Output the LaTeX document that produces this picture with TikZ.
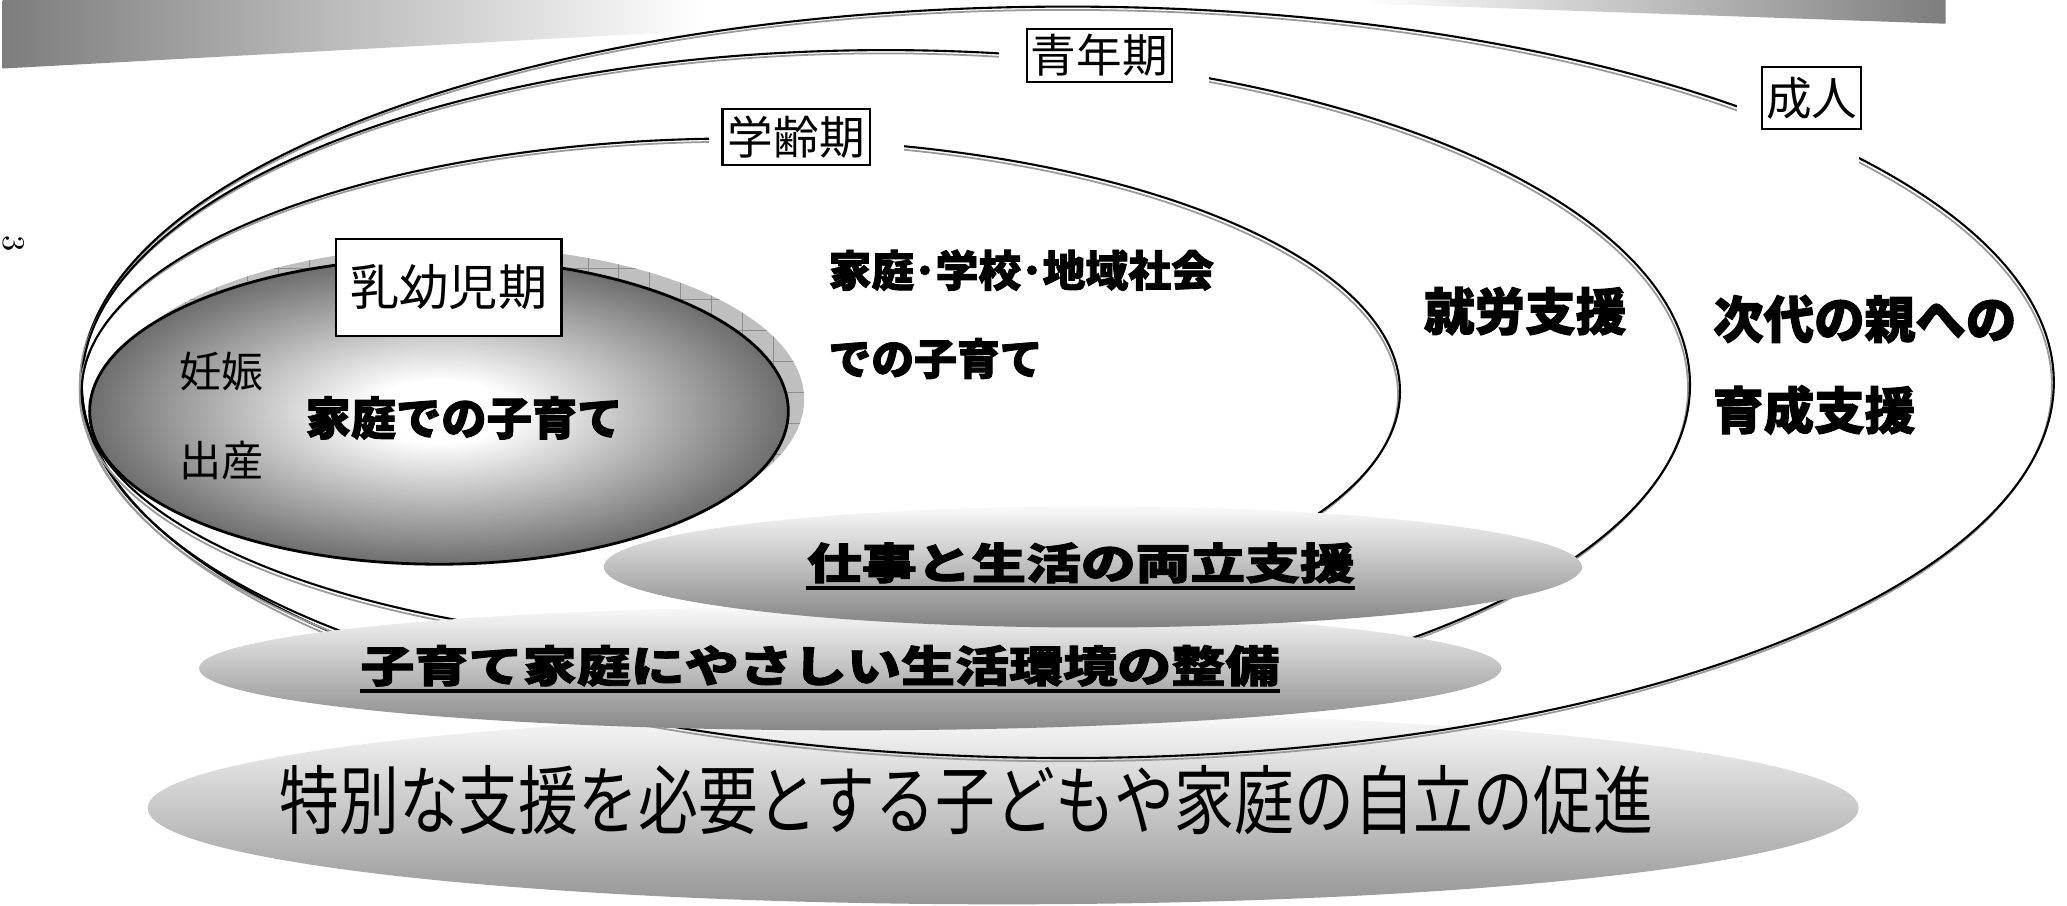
\documentclass[tikz,border=0pt]{standalone}
\usepackage{fontspec}
\usepackage{graphicx}
\newfontfamily\jp{Noto Sans CJK JP}[BoldFeatures={FakeBold=2}]
\definecolor{bgray}{RGB}{125,125,125}
\definecolor{dgray}{RGB}{110,110,110}
\definecolor{eonegray}{RGB}{130,130,130}
\definecolor{etwogray}{RGB}{135,135,135}
\definecolor{ethreegray}{RGB}{150,150,150}
\definecolor{etop}{RGB}{250,250,250}
\pgfdeclarehorizontalshading{banner}{100bp}{color(0bp)=(bgray); color(25bp)=(bgray); color(43bp)=(white); color(60bp)=(white); color(75bp)=(bgray); color(100bp)=(bgray)}
\pgfdeclareradialshading{infant}{\pgfpoint{0bp}{0bp}}{color(0bp)=(white); color(5bp)=(white); color(25bp)=(dgray); color(50bp)=(dgray)}
\tikzset{
  ring/.style={draw=black, line width=0.6pt},
  ringshadow/.style={draw=black!40, line width=0.5pt},
  gridline/.style={draw=black!45, line width=0.25pt},
  lbl/.style={draw=black, fill=white, line width=0.6pt, inner sep=0pt, font=\jp\fontsize{13pt}{13pt}\selectfont},
  thin/.style={inner sep=0pt, font=\jp\fontsize{#1}{#1}\selectfont},
  pop/.style={inner sep=0pt, font=\jp\bfseries\fontsize{#1}{#1}\selectfont},
  uline/.style={draw=black, line width=1.1pt}
}
\begin{document}
\begin{tikzpicture}[x=0.0132cm, y=-0.0132cm]
\useasboundingbox (0,0) rectangle (1568,687);
% header banner
\shade[shading=banner] (2,0) -- (1476,0) -- (1476,18) -- (960,0) -- (2,52) -- cycle;
% bottom wide ellipse
\shade[top color=etop, bottom color=ethreegray] (761,613) ellipse [x radius=649, y radius=73];
% life stage rings
\draw[ringshadow] (808.5,292.5) ellipse [x radius=748, y radius=285];
\draw[ring] (810,290) ellipse [x radius=748, y radius=285];
\draw[ringshadow] (670.5,294.5) ellipse [x radius=610, y radius=254];
\draw[ring] (672,292) ellipse [x radius=610, y radius=254];
\draw[ringshadow] (560.5,299.5) ellipse [x radius=500, y radius=192];
\draw[ring] (562,297) ellipse [x radius=500, y radius=192];
% gaps for labels
\fill[white] (538,92) rectangle (686,121);
\fill[white] (758,28) rectangle (917,66);
\fill[white] (1318,58) rectangle (1410,125);
\node[lbl, minimum width=42pt, minimum height=15.8pt] (gakurei) at (604,104) {学齢期};
\node[lbl, minimum width=41.3pt, minimum height=15pt] (seinen) at (834,42) {青年期};
\node[lbl, minimum width=28.2pt, minimum height=17.7pt] (seijin) at (1374.5,74.5) {成人};
% infant ellipse shadow
\begin{scope}
\clip (345,303) ellipse [x radius=265, y radius=116];
\fill[black!25] (60,180) rectangle (620,430);
\foreach \gx in {70,93.5,...,620} \draw[gridline] (\gx,180) -- (\gx,430);
\foreach \gy in {180,203.5,...,430} \draw[gridline] (60,\gy) -- (620,\gy);
\end{scope}
\shadedraw[shading=infant, line width=0.8pt] (333,312) ellipse [x radius=265, y radius=116];
\node[lbl, minimum width=64.2pt, minimum height=27.8pt, font=\jp\fontsize{14pt}{14pt}\selectfont] (nyuyoji) at (340.5,218) {乳幼児期};
% support ellipses
\shade[top color=etop, bottom color=etwogray] (645,507) ellipse [x radius=494, y radius=47];
\shade[top color=etop, bottom color=eonegray] (829,430) ellipse [x radius=371, y radius=46];
% texts
\node[thin=12pt] (ninshin) at (168,282) {妊娠};
\node[thin=12pt] (shussan) at (168,349) {出産};
\node[pop=12.9pt] (katei) at (352,317) {家庭での子育て};
\node[pop=12.2pt, anchor=west] (gakko1) at (628,205) {家庭･学校･地域社会};
\node[pop=12.2pt, anchor=west] (gakko2) at (628,272) {での子育て};
\node[pop=14.4pt] (shuro) at (1157,236) {就労支援};
\node[pop=14.4pt, anchor=west] (jidai1) at (1299,242) {次代の親への};
\node[pop=14.4pt, anchor=west] (jidai2) at (1299,311) {育成支援};
\node[pop=15.6pt] (ryoritsu) at (820,427) {\scalebox{1}[0.78]{仕事と生活の両立支援}};
\node[pop=15.4pt] (kankyo) at (622,505) {\scalebox{1}[0.8]{子育て家庭にやさしい生活環境の整備}};
\draw[uline] ([yshift=-2.5pt]ryoritsu.base west) -- ([yshift=-2.5pt]ryoritsu.base east);
\draw[uline] ([yshift=-2.5pt]kankyo.base west) -- ([yshift=-2.5pt]kankyo.base east);
\node[thin=21.4pt] (tokubetsu) at (733,607) {\scalebox{0.796}[1]{特別な支援を必要とする子どもや家庭の自立の促進}};
\node[inner sep=0pt, rotate=-90, font=\fontsize{9pt}{9pt}\selectfont] (pageno) at (10,185) {3};
\end{tikzpicture}
\end{document}
